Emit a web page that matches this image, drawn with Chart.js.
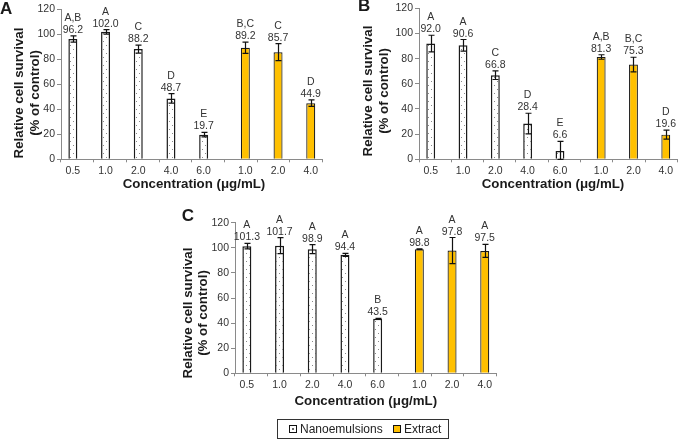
<!DOCTYPE html>
<html><head><meta charset="utf-8">
<script src="https://cdn.jsdelivr.net/npm/chart.js@4/dist/chart.umd.min.js"></script>
<style>
html,body{margin:0;padding:0;background:#fff;}
body{width:680px;height:441px;overflow:hidden;position:relative;}
canvas{position:absolute;}
#legend{position:absolute;left:277px;top:419px;width:170px;height:18px;border:1.5px solid #333;font:12px "Liberation Sans",Arial,sans-serif;color:#222;}
#legend span{position:absolute;}
.sw{width:6px;height:6px;border:1.3px solid #111;top:5px;}
</style></head>
<body>
<canvas id="cA" width="340" height="200" style="left:0;top:0"></canvas>
<canvas id="cB" width="340" height="200" style="left:340px;top:0"></canvas>
<canvas id="cC" width="340" height="241" style="left:170px;top:200px"></canvas>
<div id="legend">
  <span class="sw" id="sw1" style="left:10.5px;background:#fff"></span>
  <span id="lt1" style="left:22px;top:2px"></span>
  <span class="sw" id="sw2" style="left:114.5px;background:#FFC000"></span>
  <span id="lt2" style="left:126px;top:2px"></span>
</div>
<script>
// ---------- data ----------
const categories = ['0.5','1.0','2.0','4.0','6.0','1.0','2.0','4.0'];
const yTickValues = [0,20,40,60,80,100,120];
const yTitle = ['Relative cell survival','(% of control)'];
const xTitle = 'Concentration (\u03bcg/mL)';
const seriesNames = ['Nanoemulsions','Extract'];

const nanoA    = [96.2, 102.0, 88.2, 48.7, 19.7, null, null, null];
const extractA = [null, null, null, null, null, 89.2, 85.7, 44.9];
const errorA   = [2.5, 1.8, 3.2, 3.8, 1.8, 4.5, 6.8, 2.6];
const groupsA  = ['A,B','A','C','D','E','B,C','C','D'];

const nanoB    = [92.0, 90.6, 66.8, 28.4, 6.6, null, null, null];
const extractB = [null, null, null, null, null, 81.3, 75.3, 19.6];
const errorB   = [6.6, 4.6, 3.4, 8.2, 7.6, 1.8, 5.8, 3.6];
const groupsB  = ['A','A','C','D','E','A,B','B,C','D'];

const nanoC    = [101.3, 101.7, 98.9, 94.4, 43.5, null, null, null];
const extractC = [null, null, null, null, null, 98.8, 97.8, 97.5];
const errorC   = [2.2, 6.4, 3.6, 1.2, 0.3, 0.3, 10.4, 5.2];
const groupsC  = ['A','A','A','A','B','A','A','A'];

// ---------- styles ----------
const FONT = '"Liberation Sans", Arial, sans-serif';
Chart.defaults.font.family = FONT;
const GOLD = '#FFC000';
const AXIS = '#8a8a8a';

function dotPattern(){
  const c = document.createElement('canvas'); c.width = 6; c.height = 8;
  const g = c.getContext('2d');
  g.fillStyle = '#fff'; g.fillRect(0,0,6,8);
  g.fillStyle = '#8a8a8a';
  g.fillRect(1,1,1,1); g.fillRect(4,5,1,1);
  return document.getElementById('cA').getContext('2d').createPattern(c,'repeat');
}
const PAT = dotPattern();

const annot = {
  id: 'annot',
  afterDatasetsDraw(chart, args, o){
    const ctx = chart.ctx, ys = chart.scales.y, xs = chart.scales.x;
    ctx.save();
    chart.data.datasets.forEach((ds, di) => {
      const meta = chart.getDatasetMeta(di);
      meta.data.forEach((el, i) => {
        const v = ds.data[i]; if (v == null) return;
        const e = o.err[i];
        const yt = ys.getPixelForValue(v + e), yb = ys.getPixelForValue(Math.max(0, v - e));
        const x = Math.round(el.x) + 0.5;
        ctx.strokeStyle = '#111'; ctx.lineWidth = 1.2;
        ctx.beginPath();
        ctx.moveTo(x, yt); ctx.lineTo(x, yb);
        ctx.moveTo(x - 3, yt); ctx.lineTo(x + 3, yt);
        ctx.moveTo(x - 3, yb); ctx.lineTo(x + 3, yb);
        ctx.stroke();
        ctx.fillStyle = '#333'; ctx.font = '10.5px ' + FONT;
        ctx.textAlign = 'center'; ctx.textBaseline = 'alphabetic';
        ctx.fillText(v.toFixed(1), el.x, yt - 3);
        ctx.fillText(o.groups[i], el.x, yt - 15);
        ctx.fillText(chart.data.labels[i], el.x, xs.top + 14.5);
      });
    });
    // titles
    ctx.fillStyle = '#1a1a1a';
    ctx.font = 'bold 13.3px ' + FONT;
    ctx.textAlign = 'center';
    ctx.fillText(xTitle, o.xt[0], o.xt[1] + 4.8);
    yTitle.forEach((t, k) => {
      ctx.save();
      ctx.translate(o.yt[k] + 4.8, o.ytc);
      ctx.rotate(-Math.PI / 2);
      ctx.fillText(t, 0, 0);
      ctx.restore();
    });
    ctx.font = 'bold 17px ' + FONT; ctx.textAlign = 'left';
    ctx.fillText(o.letter, o.lp[0], o.lp[1]);
    ctx.restore();
  }
};

function makeChart(id, nano, extract, err, groups, L){
  return new Chart(document.getElementById(id), {
    type: 'bar',
    data: {
      labels: categories,
      datasets: [
        { label: seriesNames[0], data: nano, backgroundColor: PAT, borderColor: '#1a1a1a', borderWidth: 1.5 },
        { label: seriesNames[1], data: extract, backgroundColor: GOLD, borderColor: '#1a1a1a', borderWidth: 1.2 }
      ]
    },
    options: {
      responsive: false, animation: false, devicePixelRatio: 1,
      datasets: { bar: { categoryPercentage: 0.55, barPercentage: 1.0 } },
      layout: { padding: { left: 0, right: L.right, top: L.top, bottom: 0 } },
      plugins: {
        legend: { display: false }, tooltip: { enabled: false },
        annot: { err, groups, xt: L.xt, yt: L.yt, ytc: L.ytc, letter: L.letter, lp: L.lp }
      },
      scales: {
        x: {
          grid: { drawOnChartArea: false, drawTicks: true, tickLength: 3, color: AXIS, offset: true },
          border: { color: AXIS, width: 1 },
          ticks: { display: false },
          afterFit: s => { s.height = L.xh; }
        },
        y: {
          min: 0, max: 120,
          afterBuildTicks: s => { s.ticks = yTickValues.map(v => ({ value: v })); },
          grid: { drawOnChartArea: false, drawTicks: true, tickLength: 4, color: AXIS },
          border: { color: AXIS, width: 1 },
          ticks: { color: '#333', font: { size: 10.5 }, padding: 2 },
          afterFit: s => { s.width = L.yw; }
        }
      }
    },
    plugins: [annot]
  });
}

makeChart('cA', nanoA, extractA, errorA, groupsA,
  { yw: 61, right: 17.4, top: 9.3, xh: 40.7, xt: [194, 183], yt: [18, 34], ytc: 93, letter: 'A', lp: [0, 13.5] });
makeChart('cB', nanoB, extractB, errorB, groupsB,
  { yw: 79, right: 2.5, top: 8.3, xh: 40.7, xt: [213, 183], yt: [26.7, 43], ytc: 91, letter: 'B', lp: [18, 10.5] });
makeChart('cC', nanoC, extractC, errorC, groupsC,
  { yw: 65, right: 13.4, top: 22.7, xh: 67.7, xt: [195.8, 200], yt: [17.5, 32.5], ytc: 113, letter: 'C', lp: [11.7, 20.7] });

document.getElementById('lt1').textContent = seriesNames[0];
document.getElementById('lt2').textContent = seriesNames[1];
const sw1 = document.getElementById('sw1');
sw1.style.backgroundImage = 'radial-gradient(circle at 50% 50%, #666 0 0.8px, #fff 1px)';
</script>
</body></html>
